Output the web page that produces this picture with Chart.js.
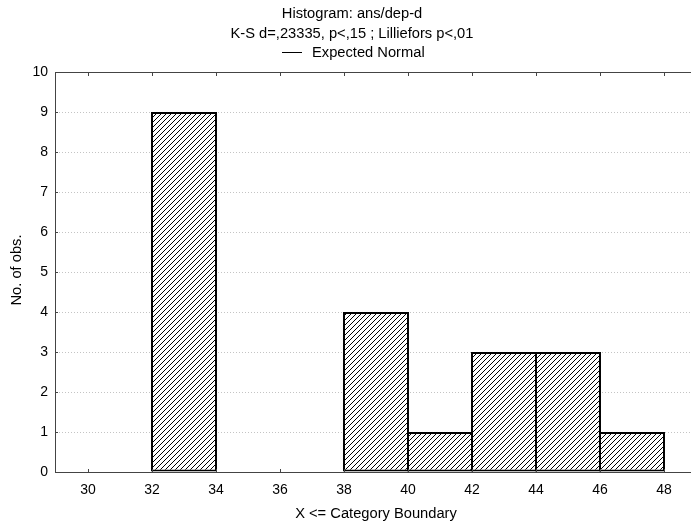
<!DOCTYPE html>
<html><head><meta charset="utf-8">
<script src="https://cdn.jsdelivr.net/npm/chart.js@4.4.0/dist/chart.umd.min.js"></script>
<style>html,body{margin:0;padding:0;background:#fff;overflow:hidden}</style>
</head><body>
<canvas id="c" width="704" height="525" style="display:block"></canvas>
<script>
const titleLines = ['Histogram: ans/dep-d', 'K-S d=,23335, p<,15 ; Lilliefors p<,01'];
const legendLabel = 'Expected Normal';
const binUpper = [30, 32, 34, 36, 38, 40, 42, 44, 46, 48];
const binWidth = 2;
const counts = [0, 0, 9, 0, 0, 4, 1, 3, 3, 1];
const xTicks = [30, 32, 34, 36, 38, 40, 42, 44, 46, 48];
const yTicks = [0, 1, 2, 3, 4, 5, 6, 7, 8, 9, 10];
const xTitle = 'X <= Category Boundary';
const yTitle = 'No. of obs.';

const FONT = "'Liberation Sans', Arial, sans-serif";
const TXT = '14.7px ' + FONT;
Chart.defaults.font.family = FONT;
Chart.defaults.font.size = 14;
Chart.defaults.color = '#000';

function hatch() {
  const s = 5, c = document.createElement('canvas');
  c.width = c.height = s;
  const g = c.getContext('2d');
  g.fillStyle = '#fff'; g.fillRect(0, 0, s, s);
  g.strokeStyle = '#000'; g.lineWidth = 1;
  g.beginPath();
  g.moveTo(-1, s + 1); g.lineTo(s + 1, -1);
  g.moveTo(-1, 1); g.lineTo(1, -1);
  g.moveTo(s - 1, s + 1); g.lineTo(s + 1, s - 1);
  g.stroke();
  return g.createPattern(c, 'repeat');
}

const barData = binUpper
  .map((u, i) => ({ x: u - binWidth / 2, y: counts[i] }))
  .filter(p => p.y > 0);

const framePlugin = {
  id: 'frame',
  afterDatasetsDraw(chart) {
    const { ctx, chartArea: a } = chart;
    const xs = chart.scales.x, ys = chart.scales.y;
    ctx.save();
    ctx.strokeStyle = '#444';
    ctx.lineWidth = 1;
    ctx.beginPath();
    ctx.moveTo(a.left - 0.5, a.top + 0.5); ctx.lineTo(a.left - 0.5, a.bottom + 0.5);
    ctx.moveTo(a.left - 1, a.top + 0.5); ctx.lineTo(a.right + 10, a.top + 0.5);
    ctx.moveTo(a.left - 1, a.bottom + 0.5); ctx.lineTo(a.right + 10, a.bottom + 0.5);
    xTicks.forEach(v => {
      const px = Math.round(xs.getPixelForValue(v)) + 0.5;
      ctx.moveTo(px, a.top); ctx.lineTo(px, a.top + 4);
      ctx.moveTo(px, a.bottom); ctx.lineTo(px, a.bottom - 3);
    });
    yTicks.forEach(v => {
      const py = Math.round(ys.getPixelForValue(v)) + 0.5;
      ctx.moveTo(a.left, py); ctx.lineTo(a.left + 2, py);
    });
    ctx.stroke();
    ctx.restore();
  },
  afterDraw(chart) {
    const { ctx } = chart;
    ctx.save();
    ctx.fillStyle = '#000';
    ctx.font = TXT;
    ctx.textAlign = 'center';
    ctx.textBaseline = 'middle';
    ctx.fillText(titleLines[0], 352, 14);
    ctx.fillText(titleLines[1], 352, 34);
    ctx.strokeStyle = '#000'; ctx.lineWidth = 1;
    ctx.beginPath(); ctx.moveTo(282, 52.5); ctx.lineTo(302, 52.5); ctx.stroke();
    ctx.textAlign = 'left';
    ctx.fillText(legendLabel, 312, 53);
    ctx.textAlign = 'center';
    const a = chart.chartArea;
    ctx.fillText(xTitle, (a.left + a.right) / 2, 514);
    ctx.translate(17, 270);
    ctx.rotate(-Math.PI / 2);
    ctx.fillText(yTitle, 0, 0);
    ctx.restore();
  }
};

new Chart(document.getElementById('c'), {
  type: 'bar',
  data: {
    datasets: [
      {
        label: 'Histogram',
        data: barData,
        backgroundColor: hatch(),
        borderColor: '#000',
        borderWidth: 2,
        borderSkipped: false,
        barPercentage: 1.031,
        categoryPercentage: 1
      },
      { type: 'line', label: legendLabel, data: [], borderColor: '#000', borderWidth: 1, pointRadius: 0 }
    ]
  },
  options: {
    responsive: false,
    devicePixelRatio: 1,
    animation: false,
    layout: { padding: { top: 72, right: 8, left: 0, bottom: 0 } },
    plugins: { legend: { display: false }, title: { display: false }, tooltip: { enabled: false } },
    scales: {
      x: {
        type: 'linear',
        offset: false,
        min: 29, max: 49,
        afterBuildTicks(s) { s.ticks = xTicks.map(v => ({ value: v })); },
        afterFit(s) { s.height = 53; },
        grid: { display: false, drawTicks: false, offset: false },
        border: { display: false },
        ticks: { padding: 10, autoSkip: false, maxRotation: 0, font: { size: 14 } }
      },
      y: {
        min: 0, max: 10,
        afterBuildTicks(s) { s.ticks = yTicks.map(v => ({ value: v })); },
        afterFit(s) { s.width = 56; },
        grid: { color: '#c4c4c4', lineWidth: 1, drawTicks: false },
        border: { display: false, dash: [1, 2] },
        ticks: { padding: 8, font: { size: 14 } }
      }
    }
  },
  plugins: [framePlugin]
});
</script>
</body></html>
